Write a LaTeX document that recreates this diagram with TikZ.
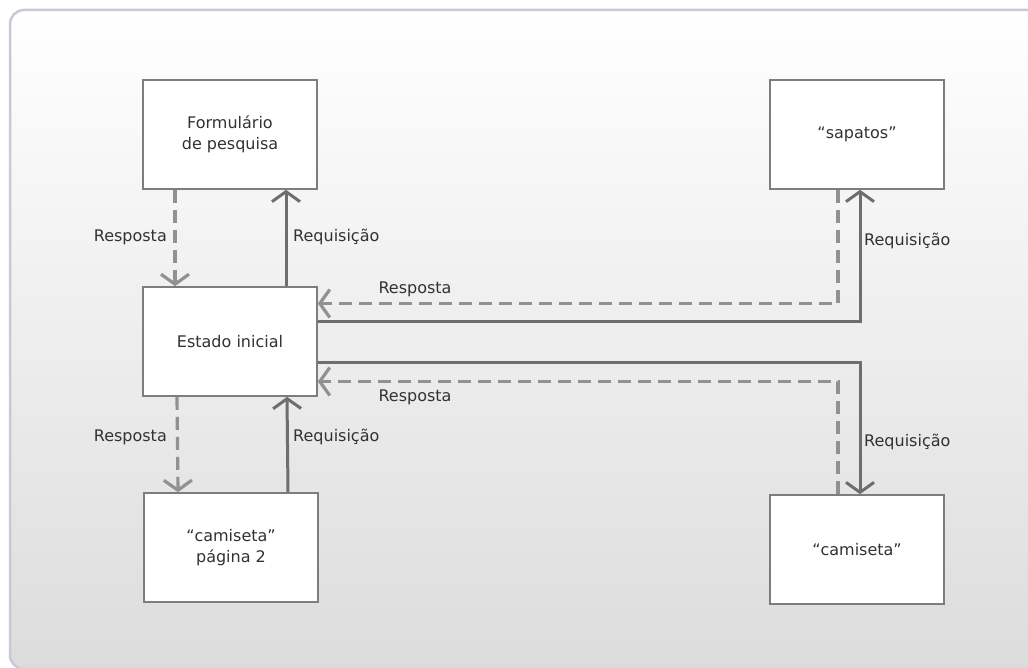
\documentclass[tikz,border=0pt]{standalone}
\usepackage{fontspec}
\setmainfont{DejaVu Sans}
\usetikzlibrary{arrows.meta}
\definecolor{boxgray}{RGB}{125,125,125}
\definecolor{reqgray}{RGB}{110,110,110}
\definecolor{respgray}{RGB}{145,145,145}
\definecolor{framecol}{RGB}{200,200,218}
\definecolor{bggray}{RGB}{220,220,220}
\definecolor{textgray}{RGB}{50,50,50}

\begin{document}
\begin{tikzpicture}[x = 1pt, y = -1pt,
 tela/.style = {draw=boxgray, line width=1.6pt, fill=white, minimum width=174pt, minimum height=109pt, align=center, text=textgray, font=\fontsize{16}{21}\selectfont},
 req/.style = {draw=reqgray, line width=3pt, -{Straight Barb[length=10pt, width=28pt]}},
 resp/.style = {draw=respgray, line width=3.2pt, dash pattern=on 13pt off 7pt, -{Straight Barb[length=10pt, width=28pt]}},
 lbl/.style = {inner sep=0pt, text=textgray, font=\fontsize{16}{19}\selectfont}]
 \useasboundingbox (0,0) rectangle (1028,668);
 % fundo
 \shade[top color=white, middle color=white, bottom color=bggray, rounded corners=14pt] (10,10) rectangle (1060,669);
 \draw[framecol, line width=2.5pt, rounded corners=14pt] (10,10) rectangle (1060,669);
 % telas
 \node[tela] (form) at (230,134.5) {Formulário\\de pesquisa};
 \node[tela] (estado) at (230,341.5) {Estado inicial};
 \node[tela] (pag2) at (231,547.5) {“camiseta”\\página 2};
 \node[tela] (sapatos) at (857,134.5) {“sapatos”};
 \node[tela] (camiseta) at (857,549.5) {“camiseta”};
 % formulario
 \draw[resp] ([xshift=-55pt]form.south) -- ([xshift=-55pt]estado.north);
 \draw[req] ([xshift=56pt]estado.north) -- ([xshift=56pt]form.south);
 % pagina 2
 \draw[resp] ([xshift=-53pt]estado.south) -- ([xshift=-53pt]pag2.north);
 \draw[req] ([xshift=57pt]pag2.north) -- ([xshift=57pt]estado.south);
 % sapatos
 \draw[req] ([yshift=19.5pt]estado.east) -| ([xshift=3pt]sapatos.south);
 \draw[resp] ([xshift=-19pt]sapatos.south) |- ([yshift=38pt]estado.east);
 % camiseta
 \draw[req] ([yshift=-21pt]estado.east) -| ([xshift=3pt]camiseta.north);
 \draw[resp] ([xshift=-19pt]camiseta.north) |- ([yshift=-40pt]estado.east);
 % rotulos
 \node[lbl, anchor=east] (resp1) at (167,237) {Resposta};
 \node[lbl, anchor=west] (req1) at (293,237) {Requisição};
 \node[lbl, anchor=east] (resp2) at (167,437) {Resposta};
 \node[lbl, anchor=west] (req2) at (293,437) {Requisição};
 \node[lbl] (resp3) at (415,289) {Resposta};
 \node[lbl] (resp4) at (415,397) {Resposta};
 \node[lbl, anchor=west] (req3) at (864,241) {Requisição};
 \node[lbl, anchor=west] (req4) at (864,442) {Requisição};
\end{tikzpicture}
\end{document}
